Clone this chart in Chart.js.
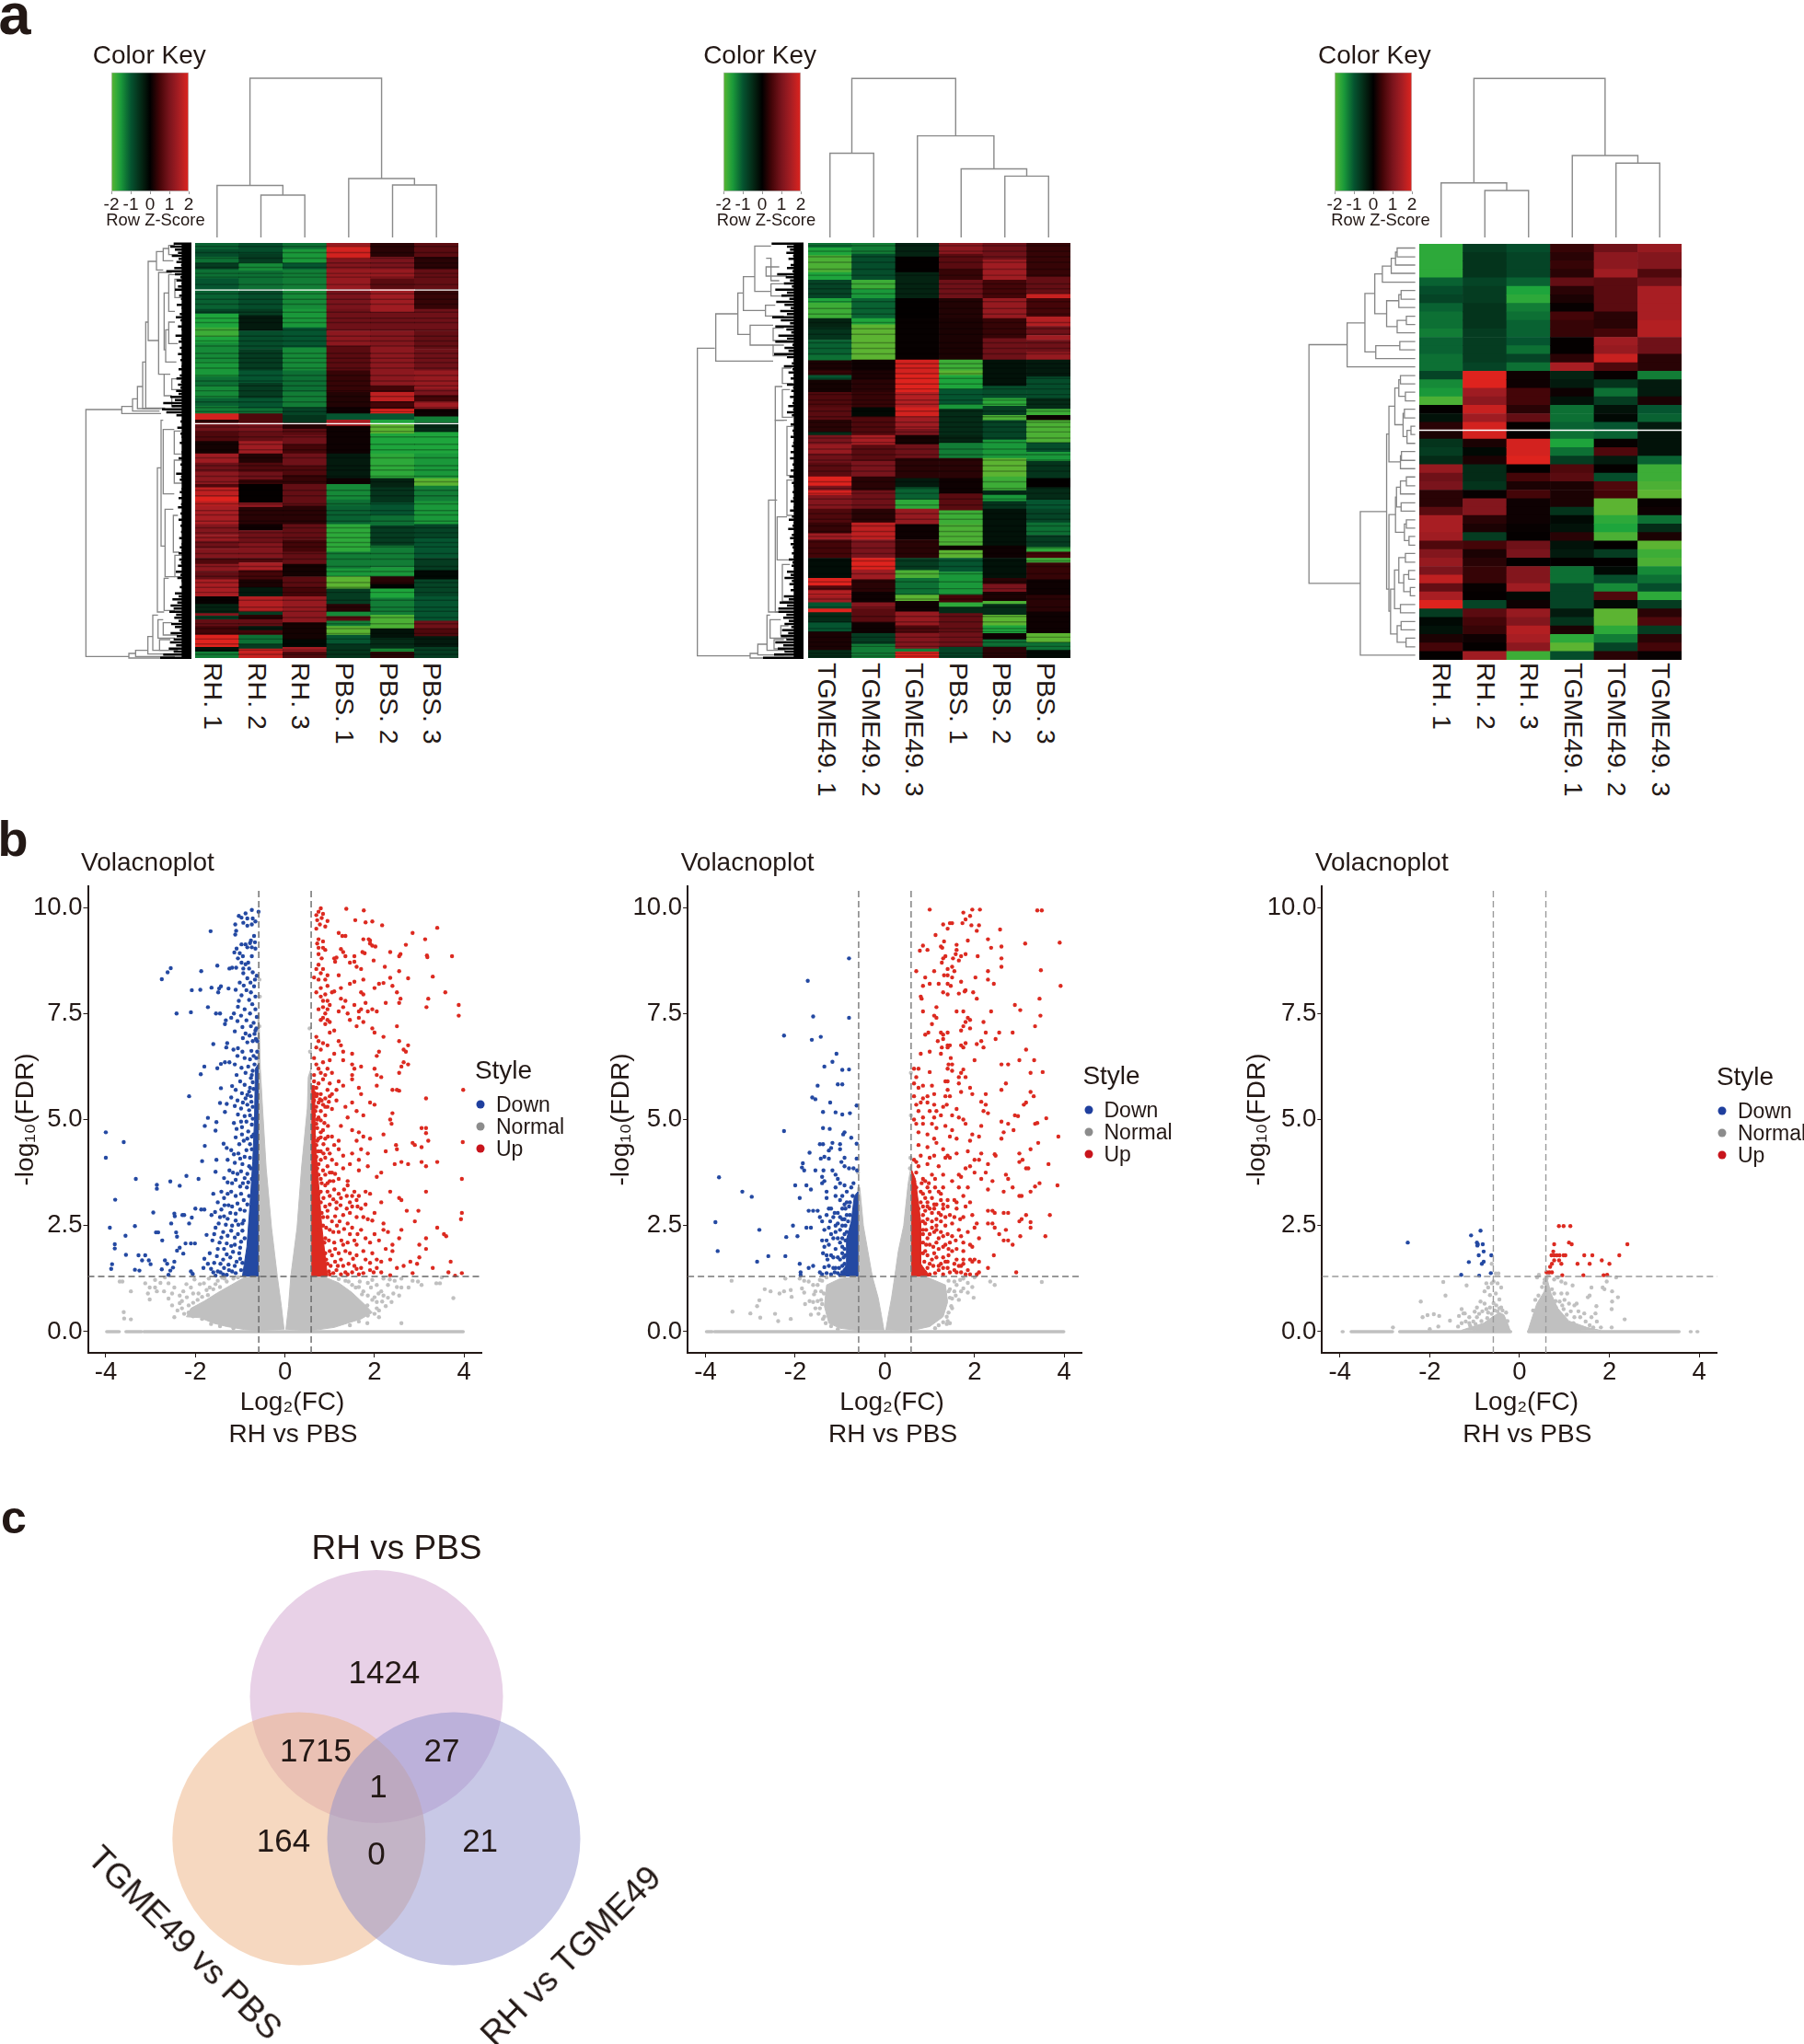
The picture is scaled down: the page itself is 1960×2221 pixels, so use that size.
<!DOCTYPE html>
<html lang="en">
<head>
<meta charset="UTF-8" />
<title>Heatmaps, volcano plots and Venn diagram</title>
<script src="https://cdn.jsdelivr.net/npm/chart.js"></script>
<style>
  html, body { margin: 0; background: #fff; }
  #page { position: relative; width: 1960px; height: 2221px; overflow: hidden; font-family: "Liberation Sans", Arial, sans-serif; color: #231815; }
  canvas { position: absolute; }
  .t { position: absolute; white-space: nowrap; line-height: 1; transform: translate(-50%, -50%); }
  .v { position: absolute; white-space: nowrap; line-height: 1; writing-mode: vertical-rl; transform: translateX(-50%); }
  .dot { position: absolute; width: 9px; height: 9px; border-radius: 50%; transform: translate(-50%, -50%); }
</style>
</head>
<body>
<div id="page"></div>
<script>
// ---- heatmap samples
const samples1 = ['RH. 1', 'RH. 2', 'RH. 3', 'PBS. 1', 'PBS. 2', 'PBS. 3'];
const samples2 = ['TGME49. 1', 'TGME49. 2', 'TGME49. 3', 'PBS. 1', 'PBS. 2', 'PBS. 3'];
const samples3 = ['RH. 1', 'RH. 2', 'RH. 3', 'TGME49. 1', 'TGME49. 2', 'TGME49. 3'];

// heatmap a1, one list per column: [row where the band ends, z-score]
const a1RH1 = [[35,-1.1],[60,-.9],[80,-1.2],[100,-.7],[130,-1.2],[165,-1],[230,-1.1],[245,-.8],[290,-1.6],[320,-1.8],[340,-1.6],[400,-1.4],[450,-1.5],[480,-1.2],[520,-1.4],[545,-1.1],[570,-1.3],[590,1.9],[600,.3],[630,.9],[660,.6],[700,.15],[730,1.4],[760,.9],[800,1.2],[810,.6],[840,1.7],[855,2],[870,1.7],[930,1.5],[965,1.1],[985,1.3],[1010,.9],[1040,1.1],[1060,.6],[1085,1.2],[1110,.8],[1165,1.5],[1190,.05],[1220,-.4],[1228,1.1],[1240,-.7],[1262,.8],[1290,.5],[1330,2],[1345,-.2],[1365,-1.3]];
const a1RH2 = [[50,-.9],[80,-.7],[105,-1.4],[130,-1.2],[165,-1.2],[230,-.9],[250,-.7],[300,-.3],[360,-.9],[430,-.7],[470,-1],[520,-.7],[552,-1],[570,-1.2],[600,.6],[630,1],[660,.8],[700,1.4],[730,.25],[760,.6],[785,.9],[800,.4],[860,.03],[875,1.2],[930,.3],[950,.1],[990,.9],[1040,1.1],[1055,.6],[1080,1.5],[1110,.5],[1135,.2],[1165,-.3],[1215,1.6],[1225,-.7],[1240,.3],[1262,.8],[1275,-.3],[1290,.5],[1320,-1.2],[1335,-.7],[1365,1.8]];
const a1RH3 = [[35,-1.2],[80,-1.5],[100,-1],[165,-1.3],[230,-1.4],[290,-1.5],[355,-1],[430,-1.4],[500,-1.2],[550,-1.3],[575,-.8],[600,-.6],[620,.3],[640,.7],[670,.9],[700,.5],[740,.9],[770,.6],[800,.4],[870,.8],[930,.3],[980,.8],[1020,.5],[1060,.8],[1100,.15],[1135,.7],[1165,.5],[1215,1.3],[1250,1.2],[1305,.15],[1330,-.1],[1345,1.4],[1365,.6]];
const a1PBS1 = [[25,1.3],[65,1.9],[100,1.1],[165,1.3],[230,1],[300,.9],[350,1.2],[430,.7],[500,.4],[550,.25],[570,.1],[590,-1],[610,1.5],[700,.1],[780,-.3],[800,.1],[850,-1.4],[870,-1.2],[930,-1.1],[1020,-1.7],[1075,-1.3],[1100,-1.5],[1140,-2],[1190,-.7],[1215,.3],[1230,-1.4],[1245,.7],[1262,-1.3],[1290,-2],[1320,-1],[1365,-.6]];
const a1PBS2 = [[60,.3],[100,1],[130,1.3],[165,.7],[240,1.4],[300,.9],[350,1.1],[430,1.2],[480,1.2],[500,.5],[530,1.7],[555,.5],[570,2],[590,-1],[602,-1.6],[635,-2],[700,-1.6],[780,-1.7],[810,-.4],[860,-.6],[900,-1],[935,-1.2],[1000,-.7],[1070,-1.3],[1100,-1.5],[1125,.3],[1140,-.05],[1170,-1.6],[1225,-1.3],[1270,-1.9],[1300,-.2],[1335,-.5],[1345,-1.5],[1365,.3]];
const a1PBS3 = [[60,.7],[100,.3],[165,.8],[230,.4],[300,.9],[360,.8],[430,.9],[490,1.3],[510,1],[530,.5],[555,1.4],[580,.1],[600,-1.3],[630,-.5],[700,-1.6],[780,-1.5],[805,-2],[855,-1.3],[930,-1.5],[975,-.8],[1040,-1],[1080,-.7],[1110,-.1],[1165,-.8],[1245,-1],[1270,.9],[1295,.6],[1330,-.3],[1365,-.7]];
const a1Gaps = [[166,168],[601,603]];
const a1Dark = [24,44,62,78,92,112,124,148,178,196,212,238,258,272,296,316,332,348,372,388,402,420,444,462,478,494,512,530,548,562,612,626,644,668,686,712,738,752,772,790,818,836,862,884,898,918,940,956,972,988,1002,1024,1042,1066,1082,1098,1118,1134,1150,1176,1198,1212,1232,1252,1268,1284,1302,1318,1338,1352];

// heatmap a2, same form
const a2T1 = [[30,-1.2],[55,-1.6],[110,-1.9],[135,-1.6],[195,-.8],[210,-1.6],[260,-1.8],[290,-.4],[330,-.6],[380,-1.1],[397,-1.2],[430,.2],[445,.4],[460,-1],[500,.15],[550,.6],[590,.7],[630,.3],[640,-.5],[670,1],[700,1.3],[730,.9],[775,.7],[805,2],[820,1],[835,1.9],[880,1.1],[925,.6],[960,.4],[980,1.4],[1040,.5],[1105,-.15],[1130,2],[1145,.6],[1165,1.6],[1185,1.4],[1205,-1],[1217,2],[1250,-.5],[1280,-1],[1340,.2],[1365,-.5]];
const a2T2 = [[50,-1.3],[135,-.9],[165,-1.8],[195,-1.5],[260,-1.1],[280,-1.6],[395,-2],[430,.1],[460,.2],[500,.3],[550,.4],[580,-.1],[640,.6],[672,1.5],[725,.7],[775,1],[820,.3],[880,.9],[925,.3],[980,1.7],[1040,1],[1078,2],[1110,1.4],[1150,.3],[1185,.1],[1205,1.1],[1250,.7],[1285,.1],[1320,-.7],[1365,-1.3]];
const a2T3 = [[60,-.4],[110,.02],[195,-.4],[260,.02],[395,.05],[440,1.9],[500,2],[550,1.6],[580,1.9],[620,1.4],[640,1],[670,.15],[715,.9],[780,.3],[810,-.3],[850,-1.1],[880,-1.7],[930,1.3],[980,.1],[1040,.3],[1080,-.7],[1105,-1.9],[1160,-1.2],[1180,-2],[1215,.1],[1260,1.3],[1285,.6],[1335,1.1],[1345,-1.3],[1365,2]];
const a2P1 = [[50,1.2],[100,.7],[135,.4],[195,.9],[260,.25],[395,.2],[430,-1.8],[445,-2],[490,-1.6],[540,-1],[555,-1.5],[640,-.5],[665,-.4],[715,-1.3],[780,.3],[830,.1],[885,.7],[930,-1.8],[1000,-1.9],[1015,.1],[1040,-2],[1085,-1],[1160,-1.5],[1185,.5],[1200,-1.7],[1220,-.5],[1285,.8],[1330,.9],[1365,-.8]];
const a2P2 = [[70,.9],[135,1.4],[195,.5],[260,1.3],[325,.4],[395,.9],[480,-.2],[520,-.9],[545,-1.7],[575,-.7],[592,-1.9],[655,-.8],[715,-1.5],[775,-2],[820,-1.8],[835,-.5],[855,-1.5],[880,-.6],[1000,-.2],[1040,.1],[1105,-.2],[1125,.3],[1150,1],[1180,.2],[1190,-1.9],[1225,-.5],[1260,-2],[1285,-1.6],[1305,.1],[1330,-1.2],[1365,.3]];
const a2P3 = [[125,.4],[180,.8],[195,1.8],[255,.5],[285,1.6],[315,.9],[330,1.4],[370,.9],[395,1.3],[450,-.3],[520,-.9],[555,-.5],[575,-1.8],[592,.1],[635,-1.9],[665,-1.9],[695,-.9],[725,-1.5],[780,-.6],[810,.02],[850,-.5],[880,-1],[925,-.8],[965,-1.2],[1005,-.7],[1020,-1.7],[1040,.5],[1055,-1.8],[1110,.4],[1160,.1],[1215,.3],[1285,.1],[1315,-2],[1340,-1.2],[1365,-.1]];
const a2Dark = [22,40,58,76,98,118,146,162,178,204,226,244,272,292,310,338,356,374,406,420,438,454,472,488,506,524,538,560,578,596,612,628,648,662,684,702,720,738,756,790,812,828,846,866,894,912,934,952,968,986,1006,1024,1048,1066,1090,1116,1138,1156,1172,1198,1228,1246,1268,1278,1296,1312,1326,1348,1358];

// heatmap a3, one row per gene
const a3Rows = [
  [-1.7,-.7,-.9,.4,.9,1.3],[-1.7,-.6,-.8,.3,1.2,1.1],[-1.7,-.6,-.8,.4,1.2,1.1],[-1.7,-.6,-.8,.3,1.4,.6],[-1.1,-.8,-1.1,.8,.7,.9],
  [-.9,-.7,-1.6,.3,.7,1.5],[-.8,-.7,-1.7,.2,.7,1.5],[-1.1,-.6,-1.3,.05,.7,1.5],[-1.2,-.6,-1.2,.5,.3,1.5],[-1.2,-.6,-1.1,.4,.3,1.6],
  [-1.3,-.7,-1.1,.4,.5,1.6],[-1.1,-.7,-1,.03,1.4,.9],[-1.1,-.7,-1.2,.03,1.3,.9],[-1.2,-.7,-.8,.3,1.8,.3],[-1.2,-.8,-1.2,1.5,.6,.3],
  [-.8,2,.1,-.4,.05,-1.3],[-1.4,2,.1,-.3,-.6,-.3],[-1.5,1.4,.5,.1,-1.2,-.3],[-1.9,1.2,.5,-.2,-.7,.2],[.02,1.8,.3,-1.2,-.2,-1],
  [-.2,1.4,.8,-1.2,-.1,-1.1],[.3,1.9,.03,-1.1,-1,-.3],[.2,1.9,.03,-1.2,-1.1,-.2],[-.6,.2,1.9,-1.6,.05,-.2],[-.7,-.1,1.9,-1.2,.6,-.2],
  [-.5,.2,2,-.7,-.3,-1.1],[1.3,-.5,.02,.6,.03,-1.8],[.9,-.5,.5,.7,-.9,-1.8],[1,-.6,.2,.2,.6,-1.9],[.3,.05,.5,.2,.5,-2],
  [.3,1.1,.1,.2,-2,.05],[.7,1.1,.1,-.6,-2,.1],[1.5,.3,.1,-.1,-1.7,-1.2],[1.5,.2,.05,-.2,-1.6,-.5],[1.4,-.7,.03,.3,-1.9,.2],
  [.6,.5,.9,-.2,.02,-2],[1.1,.2,1,-.3,-.7,-1.8],[1.3,.3,.02,.02,.02,-1.9],[1,.4,1.1,-1.2,-.1,-1.4],[1.7,.4,1.1,-1.2,-.9,-1.2],
  [.8,.05,1.4,-.8,-1.4,-.9],[1.5,.03,-.1,-.8,.6,-1.7],[2,-.8,.1,-.8,-.1,-.7],[-.7,.7,1.3,-.3,-2,.3],[-.1,.5,1.1,-.6,-2,.6],
  [-.2,.4,1.6,.2,-1.7,-.7],[.2,.1,1.5,-1.7,-1.3,.3],[.5,.03,1.2,-2,-.8,.5],[.02,1.4,-1.8,-.9,.3,.05]
];
const a3Gaps = [[21.92,22]];

// column dendrograms: [left leaf, left height, right leaf, right height, join height]
const colTree1 = [[1,0,2,0,46],[0,0,1.5,46,56.5],[4,0,5,0,57],[3,0,4.5,57,64],[.75,56.5,3.75,64,173]];
const colTree2 = [[0,0,1,0,91.5],[4,0,5,0,66.6],[3,0,4.5,66.6,74.5],[2,0,3.75,74.5,110.4],[.5,91.5,2.875,110.4,172.7]];
const colTree3 = [[1,0,2,0,51],[0,0,1.5,51,59.3],[4,0,5,0,80.7],[3,0,4.5,80.7,89],[.75,59.3,3.75,89,172.7]];

// row dendrograms: [join x, upper row, upper x, lower row, lower x]
const rowTree1 = [[10,555,127,1360,150],[127,545,162,568,255],[162,520,178,560,250],[178,480,195,552,250],[195,400,205,552,262],[205,270,213,550,268],[213,72,240,330,247],[240,40,262,100,262],[262,30,280,70,295],[280,20,300,50,310],[247,108,290,440,265],[265,175,280,360,270],[280,115,300,235,300],[300,130,320,190,320],[270,295,280,400,305],[280,270,300,340,310],[265,440,285,510,290],[290,455,320,490,320],[290,515,310,545,300],[255,590,262,1000,268],[262,620,298,830,298],[298,625,320,700,325],[298,720,325,795,325],[268,880,295,1100,300],[295,900,310,1020,315],[300,1030,325,1100,320],[243,745,255,1215,265],[265,1105,280,1210,300],[150,1350,172,1365,310],[172,1340,212,1360,300],[212,1295,228,1352,290],[228,1225,245,1340,300],[245,1240,262,1300,300],[262,1250,290,1290,310],[250,1305,285,1340,310]];
const rowTree2 = [[8,355,65,1358,180],[68,243,140,397,255],[140,175,158,310,180],[158,122,195,232,230],[195,22,248,170,248],[248,62,232,135,275],[232,90,275,120,300],[248,145,290,185,300],[230,215,262,250,290],[180,280,255,345,255],[255,290,290,330,300],[255,345,290,380,300],[262,480,285,590,290],[285,420,315,470,320],[285,490,310,580,320],[262,590,300,1215,300],[300,610,320,770,325],[300,785,320,900,320],[268,905,300,1045,310],[240,850,268,1215,285],[285,1060,310,1180,320],[180,1350,205,1365,300],[205,1320,235,1355,290],[235,1225,245,1340,295],[245,1240,280,1300,300],[280,1260,305,1290,320],[258,1305,290,1335,310]];
const rowTree3 = [[330,480,385,497,385],[325,488,330,513,385],[312,500,325,529,385],[285,515,312,546,385],[342,562,385,579,385],[335,570,342,595,385],[358,612,385,628,385],[330,620,358,644,385],[298,582,335,632,330],[262,530,285,607,298],[338,661,385,677,385],[265,669,338,694,385],[232,568,262,681,265],[178,625,232,710,385],[62,667,178,1129,218],[218,990,298,1268,385],[340,727,385,743,385],[355,759,385,776,385],[335,735,340,767,355],[352,792,385,809,385],[372,825,385,841,385],[360,833,372,858,385],[348,800,352,845,360],[323,751,335,822,348],[343,874,385,891,385],[340,882,343,907,385],[305,786,323,894,340],[358,923,385,940,385],[340,931,358,956,385],[342,973,385,989,385],[328,943,340,981,342],[358,1006,385,1022,385],[366,1038,385,1055,385],[352,1014,358,1046,366],[325,962,328,1030,352],[355,1071,385,1088,385],[365,1104,385,1121,385],[370,1137,385,1153,385],[350,1112,365,1145,370],[335,1079,355,1128,350],[340,1170,385,1186,385],[322,1103,335,1178,340],[342,1203,385,1219,385],[357,1235,385,1252,385],[330,1211,342,1243,357],[310,1140,322,1227,330],[305,996,325,1183,310],[298,840,305,1140,305]];

// leaf comb: where each leaf line starts, one value every 10 rows from row 14
const comb1 = [296,285,300,310,290,312,305,320,298,272,300,318,305,322,310,300,325,314,320,328,306,322,330,316,303,318,326,310,322,332,302,320,312,328,316,322,310,326,318,329,322,312,328,316,305,320,310,318,304,312,285,300,262,290,258,272,305,325,318,330,308,326,318,322,332,316,328,334,322,330,312,326,318,328,322,304,320,316,328,324,322,316,330,312,326,320,310,328,318,326,312,328,318,332,320,326,314,330,322,316,322,312,328,314,320,310,324,303,318,308,322,326,316,328,300,312,292,308,286,296,282,304,298,312,288,300,316,286,306,296,284,304,280,296,262,252];
const comb2 = [250,300,310,298,320,305,326,312,300,318,268,296,310,290,316,262,300,282,308,265,292,312,278,300,252,280,310,262,298,314,272,300,262,318,292,305,258,300,322,316,290,318,305,322,312,326,300,320,314,328,310,322,318,304,320,300,316,332,326,312,326,318,322,312,328,320,316,330,312,324,310,326,318,330,312,322,308,328,316,322,326,318,330,320,312,328,322,310,326,316,306,322,318,304,326,316,310,322,312,318,328,316,322,306,318,315,326,300,312,292,316,308,322,312,326,290,306,276,300,272,272,298,288,306,292,314,284,304,280,298,262,288,270,292,258,222];

// ---- volcano axes
const xTicks = [-4, -2, 0, 2, 4];
const yTicks = [0, 2.5, 5, 7.5, 10];
const keyTicks = [-2, -1, 0, 1, 2];
const fcCut = 0.585;
const fdrCut = 1.3;

// ---- volcano 1: [log2FC, -log10FDR]
const down1 = [[-4,4.7],[-4,4.1],[-3.6,4.47],[-3.33,3.6],[-3.79,3.11],[-3.91,2.45],[-3.35,2.49],[-3.56,2.26],[-3.8,2.06],[-3.8,1.96],[-3.55,1.81],[-3.27,1.8],[-3.12,1.8],[-3.19,1.68],[-3.04,1.68],[-3,1.59],[-3.86,1.59],[-3.88,1.48],[-3.35,1.46],[-3.25,1.44],[-2.94,2.81],[-2.86,3.46],[-2.86,3.37],[-2.56,3.54],[-2.35,3.44],[-2.2,3.67],[-1.93,3.6],[-2.88,2.34],[-2.83,2.34],[-2.74,2.15],[-2.54,2.55],[-2.47,2.78],[-2.46,2.72],[-2.29,2.75],[-2.25,2.75],[-2.08,2.69],[-2.14,2.55],[-2,2.9],[-1.87,2.88],[-1.8,2.88],[-2.43,2.34],[-2.41,2.24],[-2.22,2.08],[-2.1,2.08],[-2.01,2.08],[-2.35,1.98],[-2.41,1.91],[-2.27,1.84],[-2.68,1.68],[-2.63,1.6],[-2.47,1.65],[-2.75,1.47],[-2.5,1.51],[-2.56,1.44],[-2.6,1.34],[-2.1,1.42],[-2.06,1.36],
[-2.75,8.31],[-2.62,8.47],[-2.55,8.57],[-2.42,7.5],[-2.1,7.53],[-2.08,8.05],[-1.89,8.06],[-1.87,8.5],[-1.66,9.44],[-1.51,8.63],[-1.64,8.11],[-1.49,8],[-1.43,8.14],[-1.47,8.09],[-1.26,8.09],[-1.24,8.56],[-1.72,7.65],[-1.54,7.5],[-1.45,7.5],[-1.32,7.34],[-1.34,7.25],[-1.2,7.4],[-1.6,6.78],[-1.29,6.8],[-1.31,6.7],[-1.8,6.25],[-1.88,6.07],[-1.51,6.21],[-1.43,6.31],[-1.34,6.35],[-1.24,6.35],[-2.14,5.55],[-1.43,5.74],[-1.18,5.79],[-1.3,5.37],[-1.34,5.18],[-1.45,5.39],[-1.72,5.04],[-1.53,4.94],[-1.79,4.85],[-1.55,4.74],[-1.79,4.38],[-1.37,4.43],[-1.3,4.33],[-1.85,4.02],[-1.53,4.05],[-1.55,3.77],
[-.74,9.94],[-.59,9.9],[-.88,9.86],[-1.03,9.8],[-.97,9.76],[-.84,9.74],[-.72,9.74],[-.66,9.67],[-.93,9.64],[-1.11,9.6],[-.74,9.6],[-.84,9.57],[-1.09,9.45],[-1.11,9.36],[-.69,9.33],[-.76,9.22],[-.78,9.16],[-.67,9.18],[-.97,9.13],[-.88,9.13],[-1.08,9.03],[-.84,9.06],[-.74,9.06],[-.66,9.03],[-1.13,8.94],[-1.01,8.92],[-.94,8.85],[-.74,8.85],[-1.05,8.8],[-.82,8.7],[-.97,8.7],[-.88,8.66],[-1.18,8.58],[-1.09,8.58],[-.93,8.56],[-.8,8.56],[-.72,8.47],[-.93,8.45],[-.63,8.39],[-.84,8.33],[-.67,8.3],[-1.01,8.23],[-.77,8.23],[-.92,8.16],[-.69,8.14],[-1.1,8.06],[-.86,8.05],[-.76,8],[-.97,7.93],[-.66,7.9],[-1.03,7.8],[-.8,7.82],[-.73,7.72],[-1.05,7.66],[-.9,7.6],[-.66,7.6],[-1.14,7.5],[-.98,7.45],[-.78,7.5],[-.63,7.42],[-.86,7.34],[-1.06,7.32],[-.7,7.28],[-.95,7.18],[-.76,7.2],[-.64,7.15],[-1.12,7.08],[-.88,7.03],[-.68,7.02],[-.79,6.98],[-.94,6.92],[-.65,6.9],[-.72,6.85],[-.84,6.82],[-1.15,6.65],[-1.05,6.68],[-.95,6.6],[-.75,6.62],[-1.06,6.5],[-.9,6.45],[-.78,6.42],[-1.12,6.3],[-.97,6.22],[-.82,6.25],[-1.08,6.05],[-.88,6.1],[-.76,5.98],[-1,5.9],[-.9,5.82],[-.72,5.88],[-1.1,5.7],[-.96,5.62],[-.8,5.66],[-1.2,5.52],[-1.06,5.45],[-.88,5.5],[-.75,5.42],[-1.12,5.32],[-.98,5.26],[-.8,5.22],[-1.05,5.12],[-.9,5.08],[-.72,5.02],[-1.08,4.78],[-.96,4.82],[-.82,4.72],[-.74,4.6],[-1.1,4.58],[-.92,4.5],[-.78,4.42],[-1.2,4.28],[-1.04,4.2],[-.86,4.28],[-1.28,4.05],[-1.12,3.98],[-.95,3.95],[-.8,3.9],[-1.24,3.8],[-1.06,3.72],[-.9,3.62],[-1.36,3.62],[-1.18,3.5],[-1,3.42],[-.85,3.4],[-1.42,3.3],[-1.28,3.25],[-1.1,3.2],[-.92,3.1],[-1.6,3.25],[-1.5,3.05],[-1.35,2.98],[-1.18,2.95],[-1,2.88],[-1.64,2.75],[-1.45,2.7],[-1.28,2.66],[-1.1,2.62],[-.95,2.55],[-1.55,2.45],[-1.38,2.35],[-1.2,2.38],[-1.05,2.3],[-.9,2.2],[-1.75,2.28],[-1.62,2.15],[-1.46,2.1],[-1.3,2.08],[-1.12,2.05],[-1,1.98],[-1.8,1.72],[-1.68,1.85],[-1.52,1.78],[-1.38,1.7],[-1.22,1.75],[-1.08,1.65],[-.95,1.62],[-1.82,1.5],[-1.65,1.48],[-1.5,1.42],[-1.38,1.35],[-1.25,1.45],[-1.1,1.38],[-1.55,1.32],
[-.62,6.6],[-.64,6.45],[-.7,6.5],[-.68,6.3],[-.72,6.15],[-.62,6.85],[-.66,7.1],[-.74,6.05],[-.78,5.75],[-.7,5.72],[-.84,5.58],[-.76,5.55],[-.72,5.3],[-.84,5.35],[-.94,5.4],[-.78,5.1],[-.86,4.95],[-.74,4.88],[-.98,4.95],[-1.14,4.92],[-.84,4.55],[-.7,4.65],[-.96,4.65],[-1.02,4.42],[-.74,4.3],[-.9,4.12],[-.78,4.1],[-1,4.08],[-1.14,4.18],[-.76,3.85],[-.84,3.72],[-.98,3.78],[-1.16,3.75],[-.74,3.6],[-.82,3.52],[-.94,3.5],[-1.1,3.58],[-1.28,3.52],[-.8,3.2],[-.98,3.25],[-1.2,3.3],[-1.36,3.15],[-.84,3],[-1.06,3.02],[-1.26,2.98],[-1.42,2.88],[-.9,2.85],[-1.1,2.78],[-1.22,2.8],[-1.36,2.72],[-1.56,2.82],[-.92,2.62],[-1.04,2.52],[-1.18,2.5],[-1.32,2.52],[-1.48,2.55],[-.95,2.38],[-1.12,2.22],[-1.28,2.26],[-1.42,2.22],[-1.58,2.3],[-.98,2.12],[-1.2,2.02],[-1.36,1.95],[-1.5,1.95],[-1.02,1.85],[-1.16,1.88],[-1.3,1.82],[-1.44,1.6],[-1.58,1.62],[-1.72,1.6],[-1,1.72],[-1.12,1.55],[-1.26,1.58],[-1.36,1.5],[-.98,1.45],[-1.18,1.42],[-1.3,1.34],[-1.44,1.4],[-1.6,1.4]];
const up1 = [[.75,9.9],[.8,9.98],[.7,9.82],[.85,9.85],[.72,9.7],[.82,9.75],[.95,9.68],[1.37,9.97],[1.76,9.93],[1.57,9.7],[1.8,9.65],[1.95,9.67],[2.17,9.58],[3.4,9.52],[.78,9.6],[.7,9.5],[.9,9.55],[2.85,9.4],[3.13,9.25],[1.2,9.4],[1.28,9.33],[1.35,9.33],[1.75,9.25],[1.87,9.25],[1.9,9.22],[.75,9.25],[.72,9.15],[.85,9.2],[.75,9.05],[.85,9.05],[1.95,9.1],[2.02,9.08],[1.9,9.15],[2.7,9.12],[.9,9],[1.25,9.02],[1.3,8.95],[2.35,8.95],[2.58,8.9],[2.55,8.85],[3.17,8.87],[3.18,8.83],[3.73,8.85],[.75,8.9],[.82,8.8],[1.1,8.8],[1.15,8.82],[1.12,8.72],[1.35,8.85],[1.55,8.85],[1.73,8.95],[1.78,8.92],[1.98,8.75],[1.55,8.72],[1.45,8.7],[1.6,8.6],[2.23,8.6],[.75,8.65],[.85,8.55],[.7,8.55],[1.7,8.55],[.65,8.35],[.8,8.45],[.75,8.3],[.9,8.3],[.95,8.4],[.7,8],[.8,8.1],[.95,8.15],[1.05,8],[1.2,8.4],[1.45,8.2],[1.55,8.25],[1.75,8.3],[2,8.1],[2.2,8.22],[2.1,8.2],[2.4,8.15],[2.5,8],[2.55,8.5],[2.75,8.33],[3.3,8.37],[3.58,8],[1.7,8],[1.75,7.95],[1.1,8.02],[1.25,8.1],[2.35,8.34],
[.8,7.9],[.85,7.8],[.9,7.95],[.95,7.8],[.75,7.6],[.85,7.65],[.95,7.6],[1,7.7],[1.25,7.85],[1.3,7.65],[1.35,7.8],[1.2,7.55],[1.55,7.7],[1.7,7.6],[1.8,7.75],[1.95,7.6],[1.85,7.55],[2.05,7.55],[2.25,7.75],[2.55,7.75],[2.58,7.85],[3.2,7.85],[3.16,7.65],[3.88,7.7],[.9,7.5],[1.4,7.5],[1.65,7.55],[.85,7.4],[.95,7.35],[.9,7.25],[.8,7.35],[1,7.3],[1.45,7.35],[1.65,7.4],[1.75,7.3],[1.6,7.2],[1.95,7.15],[2,7.05],[3.88,7.45],[2.5,7.2],[1,7.05],[1.1,7.1],[.7,6.95],[.75,6.85],[.85,6.8],[.7,6.7],[.8,6.65],[.95,6.75],[1.2,6.85],[1.25,6.75],[1.3,6.6],[1.1,6.55],[1.5,6.55],[2.2,6.95],[2.55,6.85],[2.75,6.75],[2.65,6.65],[2.7,6.6],[2.1,6.6],[2.05,6.5],[.65,6.45],[.7,6.3],[.75,6.2],[.8,6.1],[.85,6.35],[.95,6.2],[1,6.4],[1.05,6.1],[.65,6.05],[.9,6.05],[1.3,6.4],[1.5,6.3],[1.55,6.2],[1.5,6.05],[2,6.2],[2.05,6.05],[2.15,6],[2.6,6.25],[2.65,6.35],[2.75,6.3],[2.55,6.1],[1.7,6.25],[.65,5.9],[.7,5.75],[.75,5.85],[.8,5.6],[.85,5.95],[.95,5.7],[1,5.85],[1.05,5.6],[1.2,5.9],[1.15,5.7],[1.3,5.8],[.7,5.55],[.9,5.5],[1,5.55],[1.65,5.75],[2.05,5.8],[2.4,5.7],[2.5,5.7],[2.55,5.68],[3.98,5.7],[1.7,5.6],[1.5,5.95],[.65,5.45],[.7,5.3],[.75,5.4],[.8,5.2],[.85,5.35],[.9,5.1],[.95,5.3],[1.05,5.25],[.65,5.1],[.75,5.05],[1.15,5.45],[1.35,5.3],[1.5,5.4],[1.6,5.2],[1.75,5.1],[1.9,5.4],[2,5.35],[2.4,5.15],[2.35,5],[3.15,5.5],[1.4,5.05],
[.7,4.9],[.8,4.7],[.75,4.55],[.65,4.6],[.85,4.75],[.9,4.55],[1.05,4.6],[1.25,4.85],[1.5,4.75],[1.65,4.7],[1.75,4.6],[1.9,4.55],[2.38,4.9],[2.2,4.65],[3.05,4.8],[3.15,4.8],[3.15,4.68],[1.2,4.5],[1.6,4.5],[.7,4.4],[.8,4.25],[.95,4.3],[1.1,4.4],[1.2,4.3],[1.3,4.15],[1.5,4.2],[1.7,4.3],[1.85,4.2],[2.25,4.25],[2.48,4.4],[2.5,4.3],[2.85,4.45],[2.9,4.4],[3.05,4.35],[3.2,4.5],[3.97,4.47],[.9,4.1],[1.05,4.05],[1.65,4.05],[2.6,4],[.75,3.95],[.85,3.8],[.95,3.9],[1.05,3.75],[1.15,3.95],[1.3,3.85],[1.45,3.95],[1.65,3.8],[1.85,3.9],[2.15,3.75],[2.05,3.65],[2.45,3.95],[2.75,3.95],[3.05,4],[3.4,4],[3.15,3.9],[1.2,3.6],[1.4,3.55],[1,3.55],[.8,3.6],[.7,3.4],[.8,3.3],[.9,3.45],[1,3.2],[1.1,3.35],[1.25,3.15],[1.4,3.45],[1.55,3.3],[1.8,3.3],[1.9,3.25],[2.35,3.3],[2.55,3.15],[3.15,3.3],[3.95,3.6],[1.15,3.05],[1.45,3.05],[1.6,3.1],[2.15,3.05],[2.6,3.1],[.75,2.95],[.85,2.7],[.95,2.85],[1.05,2.6],[1.15,2.9],[1.3,2.75],[1.5,2.95],[1.6,2.7],[1.7,2.9],[1.85,2.65],[2,2.8],[2.2,2.55],[2.72,2.85],[2.98,2.85],[2.9,2.6],[3.95,2.8],[3.93,2.65],[1.4,2.55],[.75,2.4],[.9,2.2],[1,2.4],[1.1,2.1],[1.2,2.35],[1.3,2.05],[1.45,2.3],[1.55,2.15],[1.7,2.4],[1.8,2.2],[2,2.3],[2.2,2.4],[2.3,2.35],[2.4,2.05],[2.55,2.2],[3,2.05],[3.15,2.2],[3.4,2.45],[3.55,2.3],[3.6,2.25],[2.6,2.4],[.85,1.9],[.95,1.6],[1.05,1.8],[1.15,1.45],[1.25,1.7],[1.35,1.4],[1.45,1.85],[1.55,1.55],[1.65,1.35],[1.8,1.7],[1.9,1.45],[2.05,1.7],[2.15,1.4],[2.25,1.95],[2.4,1.9],[2.5,1.5],[2.65,1.55],[2.8,1.65],[2.95,1.6],[3,1.75],[3.15,1.95],[3.3,1.5],[3.7,1.65],[3.65,1.4],[3.8,1.32],[3.95,1.38],[2.85,1.38],[2.35,1.33],[1,1.35],[1.25,1.35],[1.7,1.5],
[.66,5.62],[.72,5.6],[.78,5.48],[.68,5.2],[.82,5.45],[.9,5.3],[.98,5.42],[.72,5],[.8,4.98],[.88,4.92],[.96,4.85],[.72,4.8],[.8,4.58],[.96,4.6],[.72,4.5],[.86,4.42],[.74,4.25],[.86,4.2],[1,4.2],[.7,4.12],[.8,4.05],[.72,3.85],[.9,3.7],[1,3.75],[1.12,3.72],[.75,3.7],[.82,3.5],[.95,3.5],[1.08,3.55],[.75,3.25],[.86,3.15],[.95,3.3],[1.08,3.12],[1.2,3.25],[1.32,3.35],[1.38,3.2],[1.5,3.2],[1.65,3.2],[.8,3.05],[.9,2.95],[1,3],[1.24,2.98],[1.38,2.9],[1.62,2.95],[1.8,3],[.82,2.8],[.95,2.7],[1.12,2.72],[1.22,2.6],[1.45,2.8],[1.75,2.7],[1.95,2.62],[.85,2.5],[.92,2.45],[1.08,2.35],[1.16,2.5],[1.32,2.42],[1.5,2.45],[1.62,2.3],[.88,2.1],[.98,2.15],[1.12,1.95],[1.26,2.15],[1.4,2.1],[1.6,2.05],[1.9,2.1],[2.1,2.15],[.9,1.85],[1,1.9],[1.2,1.85],[1.35,1.9],[1.6,1.8],[1.75,1.9],[1.95,1.85],[.92,1.7],[1.02,1.55],[1.12,1.65],[1.3,1.55],[1.42,1.6],[1.52,1.72],[1.9,1.62],[2.15,1.65],[2.35,1.7],[.98,1.42],[1.08,1.38],[1.18,1.55],[1.4,1.35],[1.5,1.4],[1.6,1.48],[1.75,1.38],[1.98,1.4],[2.05,1.5]];
const gray1 = [[-3.69,1.18],[-3.63,1.18],[-3.44,.95],[-3.6,.46],[-3.59,.31],[-3.44,.29],[-3.12,1.14],[-3.02,1.04],[-3.06,.9],[-3.02,.76],[-2.9,1.04],[-2.86,.95],[-2.68,1.28],[-2.6,1.14],[-2.47,1.04],[-2.52,.9],[-2.35,.67],[-2.27,.95],[-2.19,.81],[-2.1,1.04],[-2.47,.34],[-2.02,1.23],[-1.93,.9],[-1.81,1.14],[-1.68,1.04],[-1.5,1.2],[-1.35,1.25],[-2.3,.72],[-2.2,1.12],[-1.75,.98],[1.84,.2],[2.6,.2],[3.76,.79],[3.38,1.14],[3.46,1.14],[3.5,1.28],[2.97,1.18],[2.76,1.04],[2.6,1.04],[2.42,.9],[2.17,.71],[2,.81],[2.09,.9],[1.84,.62],[1.67,.48],[1.92,1.04],[1.67,1.18],[1.58,1.04],[1.42,1.18],[2.34,1.23],[2.25,.6],[2.05,.55],[2.3,1.1],[1.95,1.22],[1.72,.88],[-.57,8.3],[-.56,7.9],[.55,7.15],[.56,6.6],[-.57,7.2],
[-2.3,.55],[-2.25,.42],[-2.15,.62],[-2.05,.68],[-1.95,.75],[-2.15,.45],[-2,.4],[-1.85,.82],[-1.72,.86],[-1.6,1],[-1.45,1.05],[-1.3,1.18],[-1.15,1.25],[-1.55,1.12],[-1.9,1.12],[-2.05,.9],[-2.35,.85],[-2.4,.5],[-2.52,.62],[-2.6,.78],[-2.7,.95],[-2.78,1.15],[-2.9,1.22],[-1.4,1.27],[-1.7,1.25],[-1.05,1.28],[-1.65,.18],[-1.85,.3],[-2.05,.36],[-1.45,.13],[-1.15,.08],[2,.42],[2.1,.5],[2.2,.85],[2.15,.95],[2.05,.7],[1.95,.75],[1.85,.85],[1.75,.95],[1.65,1.05],[1.5,1.1],[1.35,1.2],[1.2,1.24],[1.85,1.15],[2.05,1.1],[2.2,1.25],[2.45,1.2],[2.6,1.25],[2.55,.85],[2.38,.7],[2.3,.8],[2.5,1.05],[2.85,1.2],[3.05,1.1],[1.85,.38],[1.65,.24],[1.45,.15],[2.1,.34]];
const base1 = [[-3.98,-3.7],[-3.55,-3.2],[-3.15,3.98]];
const mass1Left = [[-.02,.05],[-.08,.6],[-.17,1.3],[-.3,2.45],[-.42,3.86],[-.5,5.27],[-.55,6.2],[-.58,7.5],[-.6,7.5],[-.6,1.3],[-.9,1.28],[-1.2,1.1],[-1.5,.92],[-1.8,.72],[-2.1,.55],[-2.2,.35],[-1.9,.33],[-1.6,.2],[-1.3,.12],[-.9,.05],[-.5,.02]];
const mass1Right = [[.02,.05],[.08,.6],[.13,1.3],[.27,2.45],[.37,3.86],[.5,5.27],[.52,6],[.58,6.2],[.6,1.3],[.9,1.28],[1.2,1.15],[1.5,.92],[1.8,.62],[1.95,.45],[1.7,.3],[1.4,.2],[1.1,.1],[.7,.04],[.4,.02]];
const solidDown1 = [[-.6,1.3],[-.6,6.3],[-.66,6.2],[-.68,5],[-.72,4],[-.78,3],[-.85,2],[-.95,1.3]];
const solidUp1 = [[.6,1.3],[.6,5.8],[.66,5.8],[.68,4.5],[.75,3.5],[.82,2.5],[.95,1.3]];

// ---- volcano 2
const down2 = [[-.8,8.8],[-1.72,8.27],[-1.6,7.43],[-.8,7.4],[-2.25,6.98],[-1.63,6.88],[-1.43,6.95],[-1.08,6.55],[-1.17,6.36],[-1.35,6.25],[-.95,6.17],[-.8,6.18],[-1.5,5.8],[-1.05,5.83],[-.95,5.83],[-1.62,5.52],[-1.55,5.48],[-1.22,5.4],[-.63,5.33],[-1.38,5.18],[-1.1,5.17],[-.95,5.12],[-.78,5.15],[-2.25,4.73],[-1.38,4.8],[-1.23,4.78],[-.9,4.7],[-.93,4.65],[-.75,4.57],[-.63,4.43],[-1.45,4.42],[-1.38,4.42],[-1.17,4.45],[-1.2,4.33],[-1.25,4.27],[-1,4.42],[-1,4.3],[-1.68,4.22],[-1.35,4.12],[-1.43,4.08],[-1.25,4.08],[-.9,4.1],[-.63,4.08],[-.97,4],[-1.83,3.97],[-1.85,3.87],[-1.8,3.8],[-1.55,3.8],[-1.37,3.8],[-1.17,3.8],[-.9,3.9],[-.8,3.85],[-.7,3.85],[-.62,3.8],[-3.7,3.64],[-3.18,3.3],[-2.97,3.18],[-3.78,2.58],[-3.73,1.9],[-2.8,2.4],[-2.05,2.5],[-2.2,2.23],[-1.95,2.25],[-2.85,1.65],[-2.6,1.78],[-2.22,1.78],[-1.9,1.6],[-1.7,1.5],[-1.6,1.55],[-1.88,1.4],[-1.88,1.33],[-2,3.45],[-1.9,3.15],[-1.75,3.45],[-1.65,3.35],[-1.4,3.5],[-1.4,3.65],[-1.35,3.55],[-1.1,3.7],[-1.05,3.6],[-1,3.5],[-.9,3.45],[-.85,3.3],[-.75,3.4],[-.7,3.5],[-1.1,3.4],[-1.3,3.3],[-1.1,3.2],[-1,3.1],[-.95,3.2],[-.85,3.05],[-1.3,3.15],[-1.7,2.85],[-1.6,2.85],[-1.5,2.85],[-1.45,2.7],[-1.4,2.6],[-1.3,2.75],[-1.2,2.9],[-1.15,2.7],[-1.05,2.8],[-.95,2.9],[-.9,2.65],[-.85,2.75],[-1.25,2.45],[-1.1,2.5],[-1,2.4],[-.95,2.5],[-1.35,2.4],[-1.75,2.45],[-1.65,2.45],[-.9,2.3],[-1.05,2.2],[-1.15,2.2],[-1.3,2.15],[-1.4,2.15],[-1.35,2],[-1.25,2.05],[-1.1,1.95],[-.95,2],[-1.38,1.85],[-1.2,1.8],[-1.05,1.75],[-.95,1.85],[-.9,1.6],[-1.1,1.5],[-1.25,1.55],[-1.45,1.4],[-1.35,1.52],[-1.3,1.38],[-1.2,1.35],[-1.05,1.38],[-.95,1.4],[-1.4,1.35],
[-.72,3.2],[-.78,3.05],[-.8,2.95],[-.88,2.9],[-.9,3],[-.78,2.75],[-.82,2.6],[-.88,2.5],[-.85,2.35],[-.95,2.65],[-1,2.7],[-1.05,2.55],[-1.12,2.8],[-1.25,2.9],[-.88,2.15],[-.95,2.2],[-1,2.1],[-.9,1.95],[-.88,1.8],[-1,1.7],[-.92,1.75],[-1.15,1.75],[-1.28,1.7],[-.95,1.55],[-1.02,1.5],[-1.15,1.5],[-.9,1.45],[-1.12,1.4],[-1,1.33],[-1.3,1.8],[-1.2,2.3],[-1.1,2.35],[-1.22,2.6]];
const up2 = [[1,9.95],[1.75,9.88],[1.95,9.95],[2.12,9.95],[3.4,9.93],[3.5,9.93],[1.9,9.8],[1.8,9.72],[1.3,9.6],[1.45,9.63],[1.5,9.63],[1.73,9.63],[1.93,9.58],[2.1,9.58],[1.4,9.5],[2.05,9.45],[2.57,9.48],[1.13,9.35],[2.3,9.25],[1.32,9.2],[1.85,9.22],[3.13,9.15],[3.9,9.17],[.85,9.1],[1.25,9.08],[1.6,9.12],[2.37,9.05],[2.6,9.08],[.78,8.98],[.95,9],[1.6,9],[1.28,9.05],[1.58,8.9],[1.8,8.9],[2.07,8.85],[1.35,8.85],[1.52,8.8],[1.65,8.75],[1.3,8.8],[1.7,8.85],[1.27,8.7],[2.6,8.8],[1.5,8.6],[2.6,8.6],[1.4,8.55],[.7,8.5],[1.1,8.5],[2.3,8.5],[1.55,8.5],[3.48,8.52],[.9,8.35],[1.32,8.4],[1.4,8.4],[1.5,8.35],[1.7,8.25],[2.02,8.35],[2.3,8.3],[.85,8.15],[1,8.2],[1.2,8.2],[1.4,8.2],[1.47,8.15],[1.8,8.05],[2.43,8.2],[3.92,8.15],[1.3,8],[1.4,7.95],[1.65,7.97],[1.78,8.02],[1.97,8],[.8,7.9],[.82,7.85],[2.05,7.85],[3.45,7.85],[2.9,7.7],[3.02,7.58],[1.15,7.65],[1.6,7.55],[1.75,7.55],[.85,7.55],[1.1,7.45],[2.37,7.55],[1.85,7.4],[3.47,7.45],[1.15,7.4],[1.9,7.35],[1.8,7.3],[2.2,7.3],[1.75,7.2],[1.05,7.25],[1.9,7.15],[1.7,7.1],[.9,7],[.97,7.05],[1.25,7.05],[1.3,7],[1.4,7.05],[2.25,7.05],[2.55,7.05],[2.85,7.05],[3.35,7.2],[1.3,6.9],[1.18,6.85],[1.4,6.75],[1.45,6.75],[1.7,6.75],[1.8,6.8],[2.05,6.78],[2.2,6.7],[2.15,6.85],[2.47,6.9],[1.4,6.7],[1.27,6.7],[.8,6.55],[1,6.6],[1.25,6.55],[3.15,6.65],[1.75,6.7],[1.47,6.45],[2,6.4],[3,6.4],[3.33,6.4],[1.42,6.3],[1.5,6.3],[2.6,6.3],[2.75,6.3],[1.4,6.2],[1.5,6.15],[.65,6.2],[.75,6.2],[1,6.12],[1.75,6.18],[1.7,6.1],[3.25,6.1],[3.52,6.12],[1.65,6],[1.8,6],[.7,6],
[1.4,5.9],[1.65,5.85],[.65,5.85],[.75,5.75],[.85,5.8],[1.05,5.8],[1.4,5.7],[1.9,5.75],[2.7,5.85],[2.6,5.7],[1.35,5.9],[1.7,5.65],[.85,5.5],[.95,5.55],[1.1,5.6],[1.35,5.55],[1.45,5.55],[1.95,5.6],[2.25,5.6],[3.25,5.65],[3.32,5.55],[.65,5.55],[.7,5.35],[.8,5.4],[.95,5.4],[1.1,5.35],[1.3,5.3],[1.38,5.35],[1.6,5.25],[2.15,5.42],[2.25,5.35],[2.2,5.2],[3.1,5.35],[3.15,5.4],[.75,5.2],[.85,5.05],[1,5.2],[1.15,5.2],[1.25,5.1],[1.5,5.1],[1.65,5.05],[1.75,5],[2.3,5.15],[2.9,5.1],[2.97,5.08],[3.6,5.03],[.65,5],[1.1,5.05],[.7,4.9],[.85,4.9],[1.05,4.9],[1.15,4.8],[1.35,4.85],[1.5,4.75],[1.8,4.9],[2.15,4.85],[2.6,4.95],[2.75,4.9],[3.35,4.9],[3.4,4.92],[.75,4.7],[.95,4.65],[1.1,4.55],[1.45,4.6],[1.6,4.55],[1.95,4.65],[2.1,4.6],[2.65,4.7],[2.87,4.75],[3.87,4.6],[2.6,4.55],[1.9,4.5],[.75,4.4],[.95,4.35],[1.15,4.45],[1.3,4.3],[1.6,4.2],[1.4,4.15],[1.85,4.25],[2.15,4.2],[2.45,4.18],[2.47,4.15],[3,4.2],[3.25,4.3],[3.42,4.45],[.65,4.05],[.8,4.15],[1,4.1],[1.1,4.15],[1.35,4.1],[1.45,4.1],[2.1,4.05],[2,4.05],[3,4],[3.07,4.05],[.7,4],[.75,3.9],[.95,3.95],[1.2,3.9],[1.3,3.7],[1.65,3.7],[1.8,3.85],[1.9,3.9],[2,3.75],[2.3,3.95],[2.25,3.75],[.7,3.75],[.85,3.6],[1.05,3.7],[1.5,3.55],[1.7,3.65],[2.15,3.6],[2.4,3.55],[2.7,3.7],[2.75,3.6],[3.15,3.85],[3.2,3.85],[3.65,3.95],[.65,3.55],[.7,3.4],[.85,3.25],[.95,3.4],[1.05,3.15],[1.2,3.3],[1.3,3.4],[1.4,3.1],[1.65,3.4],[1.75,3.2],[1.85,3.4],[2.3,3.35],[2.65,3.3],[2.85,3.4],[3.35,3.42],[3.45,3.5],[3.85,3.45],[3.25,3.3],[.8,3.05],[.95,3.05],[1.15,3],[1.6,3.05],[3.05,3.2],[3,3.2],[.75,2.9],[.85,2.75],[.95,2.95],[1.05,2.8],[1.15,2.65],[1.3,2.9],[1.45,2.75],[1.6,2.9],[1.75,2.7],[1.95,2.75],[2.3,2.85],[2.4,2.85],[2.45,2.8],[2.65,2.8],[2.75,2.8],[3.05,2.65],[3.15,2.75],[3.68,2.75],[.9,2.55],[1.25,2.6],[1.5,2.55],[2.05,2.55],[2.3,2.55],[2.4,2.55],[3,2.6],[3.25,2.58],[.85,2.4],[.95,2.2],[1.05,2.45],[1.15,2.1],[1.25,2.35],[1.35,2.05],[1.5,2.25],[1.65,2.4],[1.75,2.1],[1.85,2.35],[2,2.45],[2.1,2.2],[2.45,2.45],[2.55,2.3],[2.7,2.4],[2.65,2.15],[2.75,2.15],[2.85,2.05],[3.02,2.25],[3.25,2.45],[3.58,2.25],[1.9,2.05],[.9,1.9],[1,1.6],[1.1,1.85],[1.2,1.45],[1.3,1.75],[1.4,1.5],[1.5,1.9],[1.6,1.4],[1.75,1.7],[1.85,1.45],[1.95,1.65],[2.05,1.35],[.85,1.4],[1,1.35],[1.3,1.35],[2.1,1.65],[2.43,1.8],[2.3,1.5],[2.93,1.4],[1.65,1.55],[1.8,1.35],
[.82,3.5],[.9,3.55],[.98,3.5],[1.12,3.6],[.8,3.3],[.9,3.15],[1,3.3],[1.12,3.4],[1.25,3.25],[1.1,3],[1.25,3.1],[1.3,3],[.85,2.95],[.9,2.85],[1,2.9],[1.1,2.9],[1.2,2.8],[1.35,2.7],[1.4,2.95],[.85,2.6],[.95,2.65],[1.05,2.6],[1.15,2.5],[1.25,2.75],[1.35,2.5],[1.55,2.7],[1.68,2.65],[.85,2.3],[.92,2.4],[1,2.3],[1.1,2.35],[1.2,2.2],[1.3,2.25],[1.4,2.3],[1.45,2.1],[1.58,2.15],[1.7,2.25],[.85,2.1],[.92,2.05],[1,2.05],[1.08,2],[1.2,1.95],[1.3,2],[1.42,1.95],[1.6,1.95],[1.75,1.9],[1.95,2],[.85,1.85],[.95,1.8],[1.05,1.7],[1.15,1.75],[1.25,1.6],[1.35,1.65],[1.42,1.8],[1.6,1.7],[1.7,1.55],[.88,1.65],[.95,1.5],[1.08,1.55],[1.12,1.38],[1.2,1.55],[1.3,1.5],[1.45,1.4],[1.55,1.6],[1.7,1.4],[1.9,1.35],[.9,1.4],[1.4,1.65],[1.55,1.45],[1.75,1.6],[1.9,1.7],[2,1.7],[2.1,1.4],[1.15,2.4],[1.55,3.1],[1.9,3.05],[1.8,2.95]];
const gray2 = [[-3.42,1.2],[-3.4,.47],[-3,.43],[-2.8,.74],[-2.85,.6],[-2.78,.33],[-2.68,1],[-2.55,.95],[-2.45,.42],[-2.38,.25],[-2.35,.9],[-2.25,.95],[-2.1,.98],[-2.1,.3],[-2.08,.82],[-2.22,1.25],[-1.9,1.25],[-1.85,1.02],[-1.8,.92],[-1.78,.65],[-1.68,.72],[-1.65,.4],[-1.58,.88],[-1.55,.55],[-1.5,1.1],[-1.48,.42],[-1.42,.75],[-1.4,1.2],[-1.38,.3],[-1.3,1.28],[3.5,1.17],[2.45,1.1],[2.35,1.18],[2,1.28],[1.95,1.05],[1.98,.8],[1.85,.92],[1.75,1.02],[1.7,.95],[1.65,.75],[1.58,.85],[1.55,1.18],[1.5,.55],[1.45,1],[1.42,.45],[1.4,.25],[1.45,.2],[1.2,.15],[-.6,3.75],[.58,6.1],[.58,5.1],[.57,4.1],[.56,3.85],
[-1.36,.9],[-1.4,.65],[-1.42,.95],[-1.45,.55],[-1.35,.35],[-1.32,.2],[-1.2,.13],[-1.05,.06],[-1.5,.72],[-1.55,.95],[-1.6,1.1],[-1.7,1.18],[-1.8,1.2],[-1.45,1.22],[-1.6,.7],[1.42,.95],[1.45,.8],[1.5,.78],[1.48,.6],[1.55,.95],[1.6,1.1],[1.68,1.22],[1.75,1.25],[1.38,.35],[1.3,.22],[1.12,.08],[1.85,1.15],[1.42,1.2],[1.38,.18]];
const base2 = [[-3.98,-3.85],[-3.8,3.99]];
const mass2Left = [[-.02,.03],[-.08,.4],[-.15,.8],[-.28,1.3],[-.38,1.9],[-.48,2.5],[-.56,3.4],[-.6,3.4],[-.6,1.3],[-1,1.25],[-1.3,1.1],[-1.35,.6],[-1.25,.2],[-1,.08],[-.6,.03]];
const mass2Right = [[.02,.03],[.08,.4],[.15,.8],[.22,1.3],[.3,1.9],[.42,2.5],[.52,3.5],[.6,4],[.6,1.3],[.95,1.28],[1.35,1.1],[1.4,.7],[1.3,.35],[1,.12],[.7,.05],[.3,.02]];
const solidDown2 = [[-.6,1.3],[-.6,3.3],[-.68,3.2],[-.75,2.6],[-.85,2.2],[-.85,1.6],[-1,1.3]];
const solidUp2 = [[.6,1.3],[.6,3.8],[.68,3.6],[.8,2.6],[.8,1.6],[1,1.3]];

// ---- volcano 3
const down3 = [[-2.49,2.1],[-1.08,2.27],[-.87,2.38],[-.95,2.1],[-.93,2.06],[-.94,2.03],[-.82,2.06],[-.8,1.89],[-.91,1.8],[-.63,1.8],[-1.13,1.64],[-.8,1.65],[-.84,1.6],[-1.3,1.34],[-.9,1.32],[-.64,1.38]];
const up3 = [[.875,2.49],[.98,2.49],[1.13,2.49],[.77,2.06],[1.1,2.1],[1.16,2.06],[.75,1.89],[.71,1.8],[.77,1.8],[.83,1.8],[.89,1.8],[.98,1.8],[1.02,1.8],[1.44,1.8],[1.62,1.8],[2.22,1.8],[2.4,2.06],[1.83,1.68],[2,1.6],[1.56,1.6],[1.29,1.6],[.93,1.6],[.88,1.68],[.77,1.68],[.72,1.6],[.68,1.53],[.6,1.4],[.66,1.4],[.72,1.4],[.95,1.33],[1.42,1.33],[1.87,1.33],[1.95,1.34]];
const gray3 = [[-1.7,1.17],[-1.65,.85],[-2.2,.71],[-2.16,.34],[-2.05,.39],[-1.91,.41],[-1.79,.37],[-1.55,.26],[-1.81,.12],[-2,.06],[-2.82,.1],[-1.35,.37],[-1.29,.53],[-1.22,.43],[-1.18,1.09],[-1.25,.43],[-1.37,.12],[-1.29,.2],[-1.2,.24],[-1.12,.2],[-1.03,.24],[-1.12,.34],[-.95,.34],[-.95,.57],[-.87,.71],[-.78,.66],[-.83,.48],[-.74,.53],[-.66,.57],[-.78,.95],[-.7,1.04],[-.62,1.14],[-.74,1.14],[-.53,1.37],[-.47,1.37],[-.62,1.6],[-.58,1.18],[-.49,1.14],[-.41,1.04],[-.53,.9],[-.66,.86],[-.45,.76],[-.41,.57],[-.58,.67],[-.49,.48],[-.37,.34],
[.43,1.34],[.39,1.28],[.56,1.23],[.6,1.04],[.64,1.32],[.77,1.23],[.85,1.28],[.93,1.18],[1.02,1.14],[1.18,1.09],[1.06,.9],[.93,.9],[.77,.9],[.68,.76],[.89,.71],[1.1,.66],[1.22,.62],[1.27,.66],[1.31,.48],[1.14,.48],[.98,.53],[.81,.57],[.68,.48],[1.44,.43],[1.35,.34],[1.22,.34],[1.47,.24],[1.56,.85],[1.52,.81],[1.6,1.04],[1.71,.6],[1.69,.43],[1.6,.34],[1.72,.24],[1.56,.15],[1.64,.1],[1.81,.1],[1.85,1.04],[1.89,1],[1.94,1.18],[2.06,.95],[2.15,1.28],[2.19,.81],[2.06,.71],[2.05,.53],[2.34,.29],[2.05,.1],
[-.3,.45],[-.38,.5],[-.45,.55],[-.55,.5],[-.62,.42],[-.72,.32],[-.85,.25],[-.98,.18],[-1.1,.14],[-.35,.2],[-.27,.25],[-.52,.62],[-.7,.45],[-.9,.42],[-1,.47],[.3,.5],[.35,.75],[.42,.85],[.5,1.05],[.55,1.15],[.72,1],[.8,.72],[.95,.62],[1.05,.4],[1.2,.2],[1,.75],[.6,1.25],[.65,.95]];
const base3 = [[-3.95,-3.93],[-3.75,-2.83],[-2.67,-.2],[.2,3.55],[3.8,3.82],[3.95,3.97]];
const mass3Left = [[-.2,0],[-.25,.15],[-.35,.4],[-.45,.45],[-.6,.35],[-.8,.2],[-1.1,.1],[-1.3,.03]];
const mass3Right = [[.18,0],[.27,.3],[.38,.65],[.55,.95],[.6,1.3],[.7,.9],[.85,.55],[1.1,.25],[1.5,.1],[1.8,.03]];

// ---- venn
const vennX = [409, 324.8, 493];
const vennY = [1843.5, 1998, 1998];
const vennR = [137.5, 137.5, 137.5];
const vennCounts = ['1424', '1715', '27', '1', '164', '0', '21'];

const page = document.getElementById('page');
Chart.defaults.font.family = '"Liberation Sans", Arial, sans-serif';
Chart.defaults.color = '#231815';
Chart.defaults.animation = false;
Chart.defaults.layout.autoPadding = false;
Chart.defaults.plugins.legend.display = false;
Chart.defaults.plugins.tooltip.enabled = false;

function zColor(z) {
  const stops = [[-2,92,180,50],[-1.6,30,165,60],[-1,5,85,48],[-.4,4,35,18],[0,0,0,0],[.5,68,5,8],[1,122,20,28],[1.5,168,30,35],[2,222,35,30]];
  for (let i = 1; i < stops.length; i++) {
    if (z <= stops[i][0]) {
      const a = stops[i - 1], b = stops[i], f = (z - a[0]) / (b[0] - a[0]);
      return `rgb(${a[1] + (b[1] - a[1]) * f},${a[2] + (b[2] - a[2]) * f},${a[3] + (b[3] - a[3]) * f})`;
    }
  }
  return 'rgb(222,35,30)';
}

function addChart(left, top, w, h, cfg) {
  const c = document.createElement('canvas');
  c.width = w; c.height = h;
  c.style.left = left + 'px'; c.style.top = top + 'px';
  page.appendChild(c);
  cfg.options = Object.assign({ responsive: false, maintainAspectRatio: false }, cfg.options);
  return new Chart(c, cfg);
}

function text(str, x, y, size, extra) {
  const s = document.createElement('div');
  s.className = 't';
  s.textContent = str;
  s.style.left = x + 'px'; s.style.top = y + 'px'; s.style.fontSize = size + 'px';
  if (extra) Object.assign(s.style, extra);
  page.appendChild(s);
}

function vtext(str, x, y, size) {
  const s = document.createElement('div');
  s.className = 'v';
  s.textContent = str;
  s.style.left = x + 'px'; s.style.top = y + 'px'; s.style.fontSize = size + 'px';
  page.appendChild(s);
}

const hidden = (min, max, reverse) => ({ type: 'linear', display: false, min, max, reverse: !!reverse });
const xy = a => a.map(p => ({ x: p[0], y: p[1] }));
const noPad = { padding: 0 };

function bandsToBars(labels, cols, start) {
  const data = [], colors = [];
  cols.forEach((col, i) => {
    let from = start;
    col.forEach(b => {
      data.push({ x: labels[i], y: [from, b[0]] });
      colors.push(zColor(b[1]));
      from = b[0];
    });
  });
  return { data, colors };
}

function heatmap(left, top, w, h, labels, cols, gaps, dark, min, max, labelDx) {
  const bars = bandsToBars(labels, cols, min);
  const gapBars = [], darkBars = [];
  gaps.forEach(g => labels.forEach(l => gapBars.push({ x: l, y: g })));
  dark.forEach(r => labels.forEach(l => darkBars.push({ x: l, y: [r, r + 2.4] })));
  const opts = { grouped: false, barPercentage: 1, categoryPercentage: 1 };
  addChart(left, top, w, h, {
    type: 'bar',
    data: { labels, datasets: [
      Object.assign({ data: gapBars, backgroundColor: '#fff' }, opts),
      Object.assign({ data: darkBars, backgroundColor: 'rgba(0,0,0,.28)' }, opts),
      Object.assign({ data: bars.data, backgroundColor: bars.colors }, opts)
    ] },
    options: { layout: noPad, scales: { x: { display: false }, y: hidden(min, max, true) } }
  });
  labels.forEach((l, i) => vtext(l, left + (i + .5) * w / 6 + labelDx, 720, 28.5));
}

function colTree(left, w, merges) {
  const datasets = merges.map(m => ({
    data: [{ x: m[0], y: m[1] }, { x: m[0], y: m[4] }, { x: m[2], y: m[4] }, { x: m[2], y: m[3] }],
    showLine: true, borderColor: '#8a8a8a', borderWidth: 1.4, pointRadius: 0, clip: false
  }));
  addChart(left, 78, w, 180, { type: 'scatter', data: { datasets }, options: { layout: noPad, scales: { x: hidden(-.5, 5.5), y: hidden(0, 180) } } });
}

function rowTree(left, top, w, h, merges, comb, xMax, yMin, yMax) {
  const datasets = [];
  merges.forEach(m => datasets.push({
    data: [{ x: m[2], y: m[1] }, { x: m[0], y: m[1] }, { x: m[0], y: m[3] }, { x: m[4], y: m[3] }],
    showLine: true, borderColor: '#858585', borderWidth: 1.3, pointRadius: 0, clip: false
  }));
  if (comb) {
    const last = 14 + (comb.length - 1) * 10 - 1, first = 14;
    datasets.unshift({ data: [{ x: xMax, y: first }, { x: xMax, y: last }, { x: 322, y: last }, { x: 322, y: first }], showLine: true, fill: 'shape', backgroundColor: '#000', borderWidth: 0, pointRadius: 0 });
    const teeth = [];
    comb.forEach((x, i) => {
      const row = 14 + i * 10;
      teeth.push({ x, y: row }, { x: xMax, y: row }, { x: xMax, y: NaN });
    });
    datasets.unshift({ data: teeth, showLine: true, borderColor: '#000', borderWidth: 2.5, pointRadius: 0, spanGaps: false });
  }
  addChart(left, top, w, h, { type: 'scatter', data: { datasets }, options: { layout: noPad, scales: { x: hidden(0, xMax), y: hidden(yMin, yMax, true) } } });
}

function colorKey(left, w, dxTitle, dxSub) {
  addChart(left - 30, 70, w + 60, 170, {
    type: 'bar',
    data: { labels: ['z'], datasets: [{
      data: [[-2, 2]], barPercentage: 1, categoryPercentage: 1, borderWidth: 1, borderColor: '#c4c4c4', borderSkipped: false,
      backgroundColor: ctx => {
        const a = ctx.chart.chartArea;
        if (!a) return '#000';
        const g = ctx.chart.ctx.createLinearGradient(a.left, 0, a.right, 0);
        for (let z = -2; z <= 2; z += .25) g.addColorStop((z + 2) / 4, zColor(z));
        return g;
      }
    }] },
    options: {
      indexAxis: 'y',
      layout: { padding: { left: 30, right: 30, top: 8.6, bottom: 0 } },
      scales: {
        y: { display: false },
        x: { type: 'linear', min: -2, max: 2, border: { display: false },
          grid: { drawOnChartArea: false, tickLength: 3, color: '#999' },
          ticks: { autoSkip: false, maxRotation: 0, padding: 0, font: { size: 19 } },
          afterBuildTicks: s => { s.ticks = keyTicks.map(value => ({ value })); },
          afterFit: s => { s.height = 32; } }
      }
    }
  });
  text('Color Key', left + w / 2 + dxTitle, 60, 28);
  text('Row Z-Score', left + w / 2 + dxSub, 238.5, 18.4);
}

function volcano(o) {
  const poly = (data, color) => ({ data: xy(data), showLine: true, fill: 'shape', backgroundColor: color, borderColor: color, borderWidth: 1, pointRadius: 0 });
  const dash = (a, b, color) => ({ data: [a, b], showLine: true, borderColor: color, borderWidth: 1.4, borderDash: [7, 4], pointRadius: 0 });
  const dots = (data, color) => ({ data: xy(data), backgroundColor: color, borderWidth: 0, pointRadius: 2.2 });
  const blue = '#2449a2', red = '#dc2a20', gray = '#c0c0c0';
  const datasets = [
    dash({ x: -fcCut, y: -.5 }, { x: -fcCut, y: 10.45 }, o.dash),
    dash({ x: fcCut, y: -.5 }, { x: fcCut, y: 10.45 }, o.dash),
    dash({ x: -4.4, y: fdrCut }, { x: 4.4, y: fdrCut }, o.dash),
    dots(o.up, red), dots(o.down, blue)
  ];
  if (o.solidUp) datasets.push(poly(o.solidUp, red), poly(o.solidDown, blue));
  datasets.push(dots(o.gray, gray), poly(o.massL, gray), poly(o.massR, gray));
  o.base.forEach(b => datasets.push({ data: [{ x: b[0], y: 0 }, { x: b[1], y: 0 }], showLine: true, borderColor: gray, borderWidth: 3.6, borderCapStyle: 'round', pointRadius: 0 }));
  addChart(o.left, 920, 530, 630, {
    type: 'scatter',
    data: { datasets },
    options: {
      layout: { padding: { top: 43, right: o.padR, left: 0, bottom: 0 } },
      scales: {
        x: { type: 'linear', min: -4.4, max: 4.4,
          border: { color: '#231815', width: 2 }, grid: { drawOnChartArea: false, tickLength: 5, color: '#231815' },
          ticks: { padding: 0, font: { size: 27.5 }, maxRotation: 0, autoSkip: false },
          afterBuildTicks: s => { s.ticks = xTicks.map(value => ({ value })); },
          afterFit: s => { s.height = 80; } },
        y: { type: 'linear', min: -.5, max: 10.5,
          border: { color: '#231815', width: 2 }, grid: { drawOnChartArea: false, tickLength: 5, color: '#231815' },
          ticks: { padding: 1, font: { size: 27.5 }, callback: v => v.toFixed(1) },
          title: { display: true, text: '-log₁₀(FDR)', font: { size: 28 }, padding: { top: o.titlePad, bottom: 0 } },
          afterBuildTicks: s => { s.ticks = yTicks.map(value => ({ value })); },
          afterFit: s => { s.width = o.yW; } }
      }
    }
  });
  text('Volacnoplot', o.left + o.yW - 6.5 + 71.5, 937, 28);
  text('Log₂(FC)', o.left + o.yW + 222, 1523, 28);
  text('RH vs PBS', o.left + o.yW + 223, 1558, 28);
  text('Style', o.lx + 5 + 25, o.ly - 37, 28);
  [['Down', '#1f3f9e'], ['Normal', '#8c8c8c'], ['Up', '#c8141c']].forEach((e, i) => {
    const d = document.createElement('div');
    d.className = 'dot'; d.style.left = (o.lx + 5) + 'px'; d.style.top = (o.ly + i * 24) + 'px'; d.style.background = e[1];
    page.appendChild(d);
    const s = document.createElement('div');
    s.className = 't'; s.textContent = e[0]; s.style.left = (o.lx + 22) + 'px'; s.style.top = (o.ly + i * 24) + 'px'; s.style.fontSize = '23px'; s.style.transform = 'translate(0,-50%)';
    page.appendChild(s);
  });
}

// panel a
colorKey(121, 84, -.7, 6);
colTree(212, 286, colTree1);
rowTree(90, 260, 118, 460, rowTree1, comb1, 354, 0, 1380);
heatmap(212, 264, 286, 451, samples1, [a1RH1, a1RH2, a1RH3, a1PBS1, a1PBS2, a1PBS3], a1Gaps, a1Dark, 14, 1365, -4);

colorKey(786, 84, -2.4, 4.5);
colTree(878, 285, colTree2);
rowTree(755, 260, 118, 460, rowTree2, comb2, 354, 0, 1380);
heatmap(878, 264, 285, 451, samples2, [a2T1, a2T2, a2T3, a2P1, a2P2, a2P3], [], a2Dark, 14, 1365, -3);

colorKey(1450, 84, 1.4, 8);
colTree(1542, 285, colTree3);
rowTree(1400, 265, 138, 452, rowTree3, null, 386, 472, 1277);
const a3Cols = samples3.map((_, c) => a3Rows.map((r, i) => [i + 1, r[c]]));
heatmap(1542, 265, 285, 452, samples3, a3Cols, a3Gaps, [], 0, 49, 1);

// panel b
volcano({ left: 0, yW: 95.5, padR: 6.3, titlePad: 11, lx: 517, ly: 1200, dash: '#666', up: up1, down: down1, gray: gray1, base: base1, massL: mass1Left, massR: mass1Right, solidUp: solidUp1, solidDown: solidDown1 });
volcano({ left: 650, yW: 97.1, padR: 4.3, titlePad: 8, lx: 1177.5, ly: 1206, dash: '#777', up: up2, down: down2, gray: gray2, base: base2, massL: mass2Left, massR: mass2Right, solidUp: solidUp2, solidDown: solidDown2 });
volcano({ left: 1340, yW: 96.3, padR: 4.3, titlePad: 9, lx: 1866, ly: 1207, dash: '#9a9a9a', up: up3, down: down3, gray: gray3, base: base3, massL: mass3Left, massR: mass3Right });

// panel c
addChart(0, 1640, 760, 581, {
  type: 'bubble',
  data: { datasets: [{
    data: vennX.map((x, i) => ({ x, y: vennY[i], r: vennR[i] })),
    backgroundColor: ['rgba(209,163,207,.5)', 'rgba(237,177,129,.5)', 'rgba(145,145,205,.5)'],
    borderWidth: 0, clip: false
  }] },
  options: { layout: noPad, scales: { x: hidden(0, 760), y: hidden(1640, 2221, true) } }
});
text('RH vs PBS', 431, 1681, 37);
[[417.4, 1816], [343, 1901], [480, 1901], [411, 1940], [308, 1999], [409, 2013], [521.6, 1999]].forEach((p, i) => text(vennCounts[i], p[0], p[1], 35));
text('TGME49 vs PBS', 201, 2111, 37, { transform: 'translate(-50%,-50%) rotate(45deg)' });
text('RH vs TGME49', 620, 2125, 37, { transform: 'translate(-50%,-50%) rotate(-45deg)' });

// panel letters
text('a', 16, 15, 63, { fontWeight: 'bold' });
text('b', 14, 911, 54, { fontWeight: 'bold' });
text('c', 15, 1649, 50, { fontWeight: 'bold' });
</script>
</body>
</html>
